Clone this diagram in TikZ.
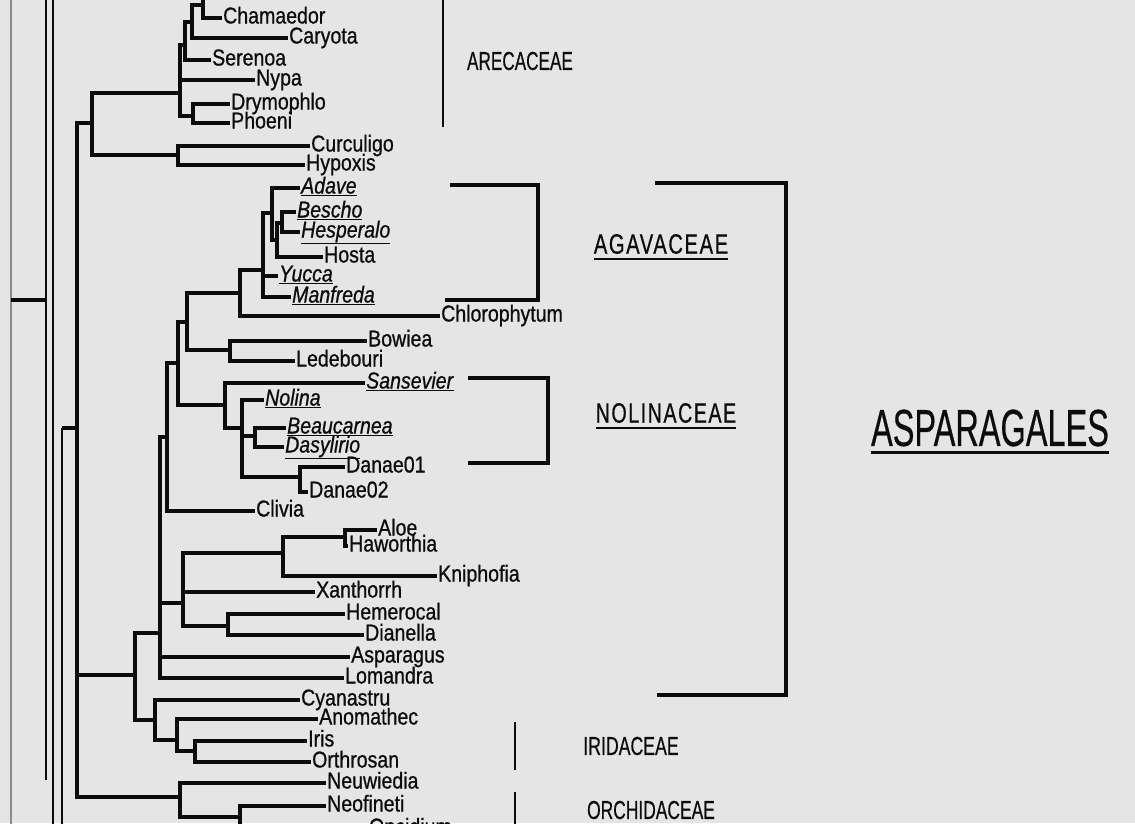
\documentclass[tikz,border=0pt]{standalone}
\usepackage{fontspec}
\setmainfont{Liberation Sans}
\newfontfamily\labfont{Liberation Sans}[FakeStretch=0.85,FakeBold=0.8]
\newfontfamily\grpfont{Liberation Sans}[FakeBold=0.6]
\newfontfamily\spfont{Liberation Sans}[LetterSpace=8,FakeBold=0.8]
\definecolor{bg}{RGB}{229,229,229}
\definecolor{ink}{RGB}{12,12,12}
\definecolor{frame}{RGB}{140,140,140}
\tikzset{
  br/.style={draw=ink, line width=3.4pt, line join=miter},
  vline/.style={draw=ink, line width=2.8pt},
  leaf/.style={anchor=west, inner sep=1pt, text=ink, text height=16pt, text depth=5pt,
    font=\labfont\fontsize{23}{24}\selectfont},
  grp/.style={inner sep=0pt, text=ink, font=\grpfont\fontsize{26}{28}\selectfont},
  sgrp/.style={inner sep=0pt, text=ink, font=\spfont\fontsize{28}{30}\selectfont},
  uline/.style={draw=ink, line width=2.4pt}
}
\newcommand{\ul}[1]{\underline{\textit{#1}}}
\begin{document}
\begin{tikzpicture}[x=1pt,y=-1pt]
\fill[bg] (0,0) rectangle (1135,823);
\useasboundingbox (0,0) rectangle (1135,823);
\begin{scope}
\clip (0,0) rectangle (1135,823);
% ---------- left frame and outer lines ----------
\coordinate (Ft) at (11,-5); \coordinate (Fb) at (11,830);
\draw[draw=frame, line width=1.6pt] (Ft) -- (Fb);
\coordinate (L1t) at (46,-5); \coordinate (L1b) at (46,780);
\coordinate (L2t) at (53,-5); \coordinate (L2b) at (53,830);
\draw[vline] (L1t) -- (L1b);
\draw[vline] (L2t) -- (L2b);
\coordinate (H0a) at (11,300); \coordinate (H0b) at (46,300);
\draw[br] (H0a) -- (H0b);
\coordinate (P0) at (62,428); \coordinate (P0b) at (62,830);
\draw[vline] (P0) -- (P0b);
\coordinate (R0) at (77,428);
\draw[br] (P0) -- (R0);

% ---------- internal nodes ----------
\coordinate (A0) at (92,123);
\coordinate (ARE) at (180,93);
\coordinate (CH) at (178,155);
\coordinate (a1) at (185,45);
\coordinate (a2) at (192,22);
\coordinate (a3) at (203,5);
\coordinate (a3up) at (230,-15);
\coordinate (DP) at (193,116);
\coordinate (B0) at (135,675);
\coordinate (ASP) at (160,633);
\coordinate (C1) at (167,437);
\coordinate (C3) at (178,363);
\coordinate (C4) at (187,322);
\coordinate (AGA) at (240,293);
\coordinate (AG1) at (263,270);
\coordinate (AG2) at (272,213);
\coordinate (AG3) at (277,240);
\coordinate (AG4) at (282,223);
\coordinate (BL) at (230,350);
\coordinate (NOL) at (225,405);
\coordinate (N2) at (242,428);
\coordinate (N3) at (255,436);
\coordinate (D) at (300,477);
\coordinate (C2) at (183,603);
\coordinate (K1) at (283,553);
\coordinate (AH) at (345,537);
\coordinate (HD) at (228,626);
\coordinate (IRI) at (155,720);
\coordinate (I2) at (177,740);
\coordinate (I3) at (195,751);
\coordinate (O0) at (180,797);
\coordinate (O1) at (240,817);

% ---------- leaves ----------
\node[leaf] (chamaedor) at (222,18) {Chamaedor};
\node[leaf] (caryota) at (288,38) {Caryota};
\node[leaf] (serenoa) at (211,60) {Serenoa};
\node[leaf] (nypa) at (255,80) {Nypa};
\node[leaf] (drymophlo) at (230,104) {Drymophlo};
\node[leaf] (phoeni) at (230,123) {Phoeni};
\node[leaf] (curculigo) at (310,146) {Curculigo};
\node[leaf] (hypoxis) at (305,165) {Hypoxis};
\node[leaf] (adave) at (300,188) {\ul{Adave}};
\node[leaf] (bescho) at (296,212) {\ul{Bescho}};
\node[leaf] (hesperalo) at (300,232) {\ul{Hesperalo}};
\node[leaf] (hosta) at (323,257) {Hosta};
\node[leaf] (yucca) at (278,276) {\ul{Yucca}};
\node[leaf] (manfreda) at (291,297) {\ul{Manfreda}};
\node[leaf] (chlorophytum) at (440,316) {Chlorophytum};
\node[leaf] (bowiea) at (367,341) {Bowiea};
\node[leaf] (ledebouri) at (295,361) {Ledebouri};
\node[leaf] (sansevier) at (365,383) {\ul{Sansevier}};
\node[leaf] (nolina) at (264,400) {\ul{Nolina}};
\node[leaf] (beaucarnea) at (286,428) {\ul{Beaucarnea}};
\node[leaf] (dasylirio) at (284,447) {\ul{Dasylirio}};
\node[leaf] (danae01) at (345,467) {Danae01};
\node[leaf] (danae02) at (308,492) {Danae02};
\node[leaf] (clivia) at (255,511) {Clivia};
\node[leaf] (aloe) at (377,530) {Aloe};
\node[leaf] (haworthia) at (348,546) {Haworthia};
\node[leaf] (kniphofia) at (437,576) {Kniphofia};
\node[leaf] (xanthorrh) at (315,592) {Xanthorrh};
\node[leaf] (hemerocal) at (345,614) {Hemerocal};
\node[leaf] (dianella) at (364,635) {Dianella};
\node[leaf] (asparagus) at (350,657) {Asparagus};
\node[leaf] (lomandra) at (344,678) {Lomandra};
\node[leaf] (cyanastru) at (300,700) {Cyanastru};
\node[leaf] (anomathec) at (318,719) {Anomathec};
\node[leaf] (iris) at (307,741) {Iris};
\node[leaf] (orthrosan) at (311,762) {Orthrosan};
\node[leaf] (neuwiedia) at (326,783) {Neuwiedia};
\node[leaf] (neofineti) at (326,806) {Neofineti};
\node[leaf] (oncidium) at (368,829) {Oncidium};

% ---------- branches ----------
\draw[br] (R0) |- (A0);
\draw[br] (R0) |- (B0);
\draw[br] (R0) |- (O0);
% Arecaceae etc.
\draw[br] (A0) |- (ARE);
\draw[br] (A0) |- (CH);
\draw[br] (CH) |- (curculigo.west);
\draw[br] (CH) |- (hypoxis.west);
\draw[br] (ARE) |- (a1);
\draw[br] (ARE) |- (nypa.west);
\draw[br] (ARE) |- (DP);
\draw[br] (a1) |- (a2);
\draw[br] (a1) |- (serenoa.west);
\draw[br] (a2) |- (a3);
\draw[br] (a2) |- (caryota.west);
\draw[br] (a3) |- (chamaedor.west);
\draw[br] (a3) |- (a3up);
\draw[br] (DP) |- (drymophlo.west);
\draw[br] (DP) |- (phoeni.west);
% Asparagales
\draw[br] (B0) |- (ASP);
\draw[br] (B0) |- (IRI);
\draw[br] (ASP) |- (C1);
\draw[br] (ASP) |- (C2);
\draw[br] (ASP) |- (asparagus.west);
\draw[br] (ASP) |- (lomandra.west);
\draw[br] (C1) |- (C3);
\draw[br] (C1) |- (clivia.west);
\draw[br] (C3) |- (C4);
\draw[br] (C3) |- (NOL);
\draw[br] (C4) |- (AGA);
\draw[br] (C4) |- (BL);
\draw[br] (AGA) |- (AG1);
\draw[br] (AGA) |- (chlorophytum.west);
\draw[br] (AG1) |- (AG2);
\draw[br] (AG1) |- (yucca.west);
\draw[br] (AG1) |- (manfreda.west);
\draw[br] (AG2) |- (adave.west);
\draw[br] (AG2) |- (AG3);
\draw[br] (AG3) |- (AG4);
\draw[br] (AG3) |- (hosta.west);
\draw[br] (AG4) |- (bescho.west);
\draw[br] (AG4) |- (hesperalo.west);
\draw[br] (BL) |- (bowiea.west);
\draw[br] (BL) |- (ledebouri.west);
\draw[br] (NOL) |- (sansevier.west);
\draw[br] (NOL) |- (N2);
\draw[br] (N2) |- (nolina.west);
\draw[br] (N2) |- (N3);
\draw[br] (N2) |- (D);
\draw[br] (N3) |- (beaucarnea.west);
\draw[br] (N3) |- (dasylirio.west);
\draw[br] (D) |- (danae01.west);
\draw[br] (D) |- (danae02.west);
\draw[br] (C2) |- (K1);
\draw[br] (C2) |- (xanthorrh.west);
\draw[br] (C2) |- (HD);
\draw[br] (K1) |- (AH);
\draw[br] (K1) |- (kniphofia.west);
\draw[br] (AH) |- (aloe.west);
\draw[br] (AH) |- (haworthia.west);
\draw[br] (HD) |- (hemerocal.west);
\draw[br] (HD) |- (dianella.west);
% Iridaceae group
\draw[br] (IRI) |- (cyanastru.west);
\draw[br] (IRI) |- (I2);
\draw[br] (I2) |- (anomathec.west);
\draw[br] (I2) |- (I3);
\draw[br] (I3) |- (iris.west);
\draw[br] (I3) |- (orthrosan.west);
% Orchidaceae
\draw[br] (O0) |- (neuwiedia.west);
\draw[br] (O0) |- (O1);
\draw[br] (O1) |- (neofineti.west);
\draw[br] (O1) |- (oncidium.west);

% ---------- brackets ----------
\coordinate (arT) at (443,-5); \coordinate (arB) at (443,127);
\draw[vline] (arT) -- (arB);
\coordinate (ag1) at (450,185); \coordinate (ag2) at (538,185);
\coordinate (ag3) at (538,300); \coordinate (ag4) at (445,300);
\draw[br] (ag1) -- (ag2) -- (ag3) -- (ag4);
\coordinate (bg1) at (655,183); \coordinate (bg2) at (786,183);
\coordinate (bg3) at (786,695); \coordinate (bg4) at (657,695);
\draw[br] (bg1) -- (bg2) -- (bg3) -- (bg4);
\coordinate (nl1) at (468,378); \coordinate (nl2) at (548,378);
\coordinate (nl3) at (548,463); \coordinate (nl4) at (468,463);
\draw[br] (nl1) -- (nl2) -- (nl3) -- (nl4);
\coordinate (irT) at (515,722); \coordinate (irB) at (515,770);
\draw[vline] (irT) -- (irB);
\coordinate (orT) at (515,792); \coordinate (orB) at (515,830);
\draw[vline] (orT) -- (orB);

% ---------- group labels ----------
\node[grp] (arecaceae) at (520,61) {\scalebox{0.66}[1]{ARECACEAE}};
\node[sgrp] (agavaceae) at (661,244) {\scalebox{0.72}[1]{AGAVACEAE}};
\draw[uline] ([yshift=-5pt]agavaceae.south west) -- ([yshift=-5pt]agavaceae.south east);
\node[sgrp] (nolinaceae) at (666,413) {\scalebox{0.70}[1]{NOLINACEAE}};
\draw[uline] ([yshift=-5pt]nolinaceae.south west) -- ([yshift=-5pt]nolinaceae.south east);
\node[inner sep=0pt, text=ink, font=\grpfont\fontsize{52}{54}\selectfont] (asparagales) at (990,428) {\scalebox{0.625}[1]{ASPARAGALES}};
\draw[draw=ink, line width=3pt] ([yshift=-6pt]asparagales.south west) -- ([yshift=-6pt]asparagales.south east);
\node[grp] (iridaceae) at (631,746) {\scalebox{0.68}[1]{IRIDACEAE}};
\node[grp] (orchidaceae) at (651,810) {\scalebox{0.67}[1]{ORCHIDACEAE}};
\end{scope}
\end{tikzpicture}
\end{document}
